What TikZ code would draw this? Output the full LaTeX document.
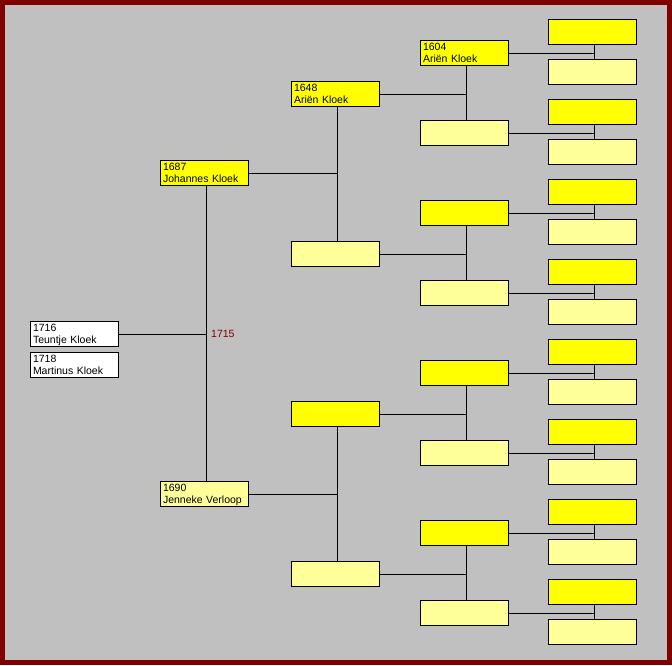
\documentclass[tikz,border=0pt]{standalone}
\usepackage{fontspec}
\setmainfont{Liberation Sans}
\definecolor{frame}{HTML}{800000}
\definecolor{canvas}{HTML}{C0C0C0}
\definecolor{dadfill}{HTML}{FFFF00}
\definecolor{mumfill}{HTML}{FFFF99}
\tikzset{
	person/.style={draw, line width=1pt, anchor=north west, text width=83pt, align=left,
		inner xsep=2.5pt, inner ysep=1pt, text height=9pt, text depth=14pt,
		font=\fontsize{10.5}{12}\selectfont},
	dad/.style={person, fill=dadfill},
	mum/.style={person, fill=mumfill},
	kid/.style={person, fill=white},
	link/.style={line width=1pt},
	wedding/.style={anchor=west, inner sep=1pt, text=frame, font=\fontsize{10.5}{12}\selectfont}
}
\begin{document}
\begin{tikzpicture}[x=1pt, y=-1pt]
	\fill[frame] (0,0) rectangle (672,665);
	\fill[canvas] (5,5) rectangle (667,660);
	% child and siblings
	\node[kid] (1) at (30,321) {1716\\Teuntje Kloek};
	\node[kid] (s) at (30,352) {1718\\Martinus Kloek};
	% parents and grandparents
	\node[dad] (2) at (160,160) {1687\\Johannes Kloek};
	\node[mum] (3) at (160,481) {1690\\Jenneke Verloop};
	\node[dad] (4) at (291,81) {1648\\Ariën Kloek};
	\node[mum] (5) at (291,241) {};
	\node[dad] (6) at (291,401) {};
	\node[mum] (7) at (291,561) {};
	\node[dad] (8) at (420,40) {1604\\Ariën Kloek};
	\node[mum] (9) at (420,120) {};
	\foreach \j [evaluate=\j as \a using int(8+2*\j), evaluate=\j as \b using int(9+2*\j),
			evaluate=\j as \y using int(40+160*\j)] in {1,2,3} {
		\node[dad] (\a) at (420,\y) {};
		\node[mum] (\b) at (420,\y+80) {};
	}
	\foreach \j [evaluate=\j as \a using int(16+2*\j), evaluate=\j as \b using int(17+2*\j),
			evaluate=\j as \y using int(19+80*\j)] in {0,...,7} {
		\node[dad] (\a) at (548,\y) {};
		\node[mum] (\b) at (548,\y+40) {};
	}
	% couples and descent
	\foreach \n [evaluate=\n as \f using int(2*\n), evaluate=\n as \m using int(2*\n+1)] in {1,...,15}
		\draw[link] ([xshift=2pt]\f.south) -- ([xshift=2pt]\m.north)
			(\n.east) -- ([xshift=2pt]\f.south |- \n.east);
	\node[wedding] (w) at ([xshift=5.5pt]2.south |- 1.east) {1715};
\end{tikzpicture}
\end{document}
